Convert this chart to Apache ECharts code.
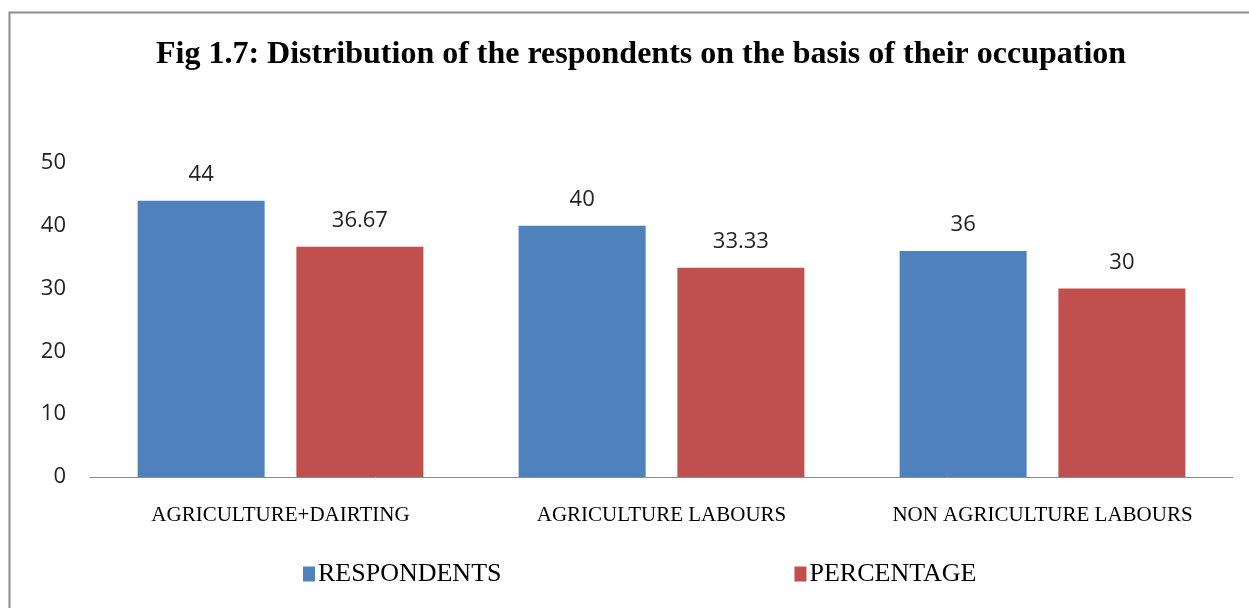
<!DOCTYPE html>
<html><head><meta charset="utf-8">
<script src="https://cdn.jsdelivr.net/npm/echarts@6/dist/echarts.min.js"></script>
<style>html,body{margin:0;padding:0;background:#fff}#c{width:1249px;height:608px}</style>
</head><body><div id="c"></div>
<script>
const categories = ["AGRICULTURE+DAIRTING", "AGRICULTURE LABOURS", "NON AGRICULTURE LABOURS"];
const respondents = [44, 40, 36];
const percentage = [36.67, 33.33, 30];
const yTicks = [0, 10, 20, 30, 40, 50];

const chart = echarts.init(document.getElementById('c'));
const labelStyle = {show: true, position: 'top', distance: 15, color: '#222', fontFamily: 'Open Sans', fontSize: 22};
chart.setOption({
  animation: false,
  graphic: [{type: 'rect', shape: {x: 9.5, y: 12.5, width: 1400, height: 800}, style: {fill: 'none', stroke: '#8c8c8c', lineWidth: 2}}],
  title: {text: 'Fig 1.7: Distribution of the respondents on the basis of their occupation', left: 636, textAlign: 'center', top: 34,
    textStyle: {fontFamily: 'Liberation Serif', fontWeight: 'bold', fontSize: 32, color: '#000'}},
  legend: {bottom: 16, left: 298, itemGap: 293, itemWidth: 12, itemHeight: 15, icon: 'rect',
    textStyle: {fontFamily: 'Liberation Serif', fontSize: 26, color: '#000', padding: [0,0,0,-2]},
    data: ['RESPONDENTS', 'PERCENTAGE']},
  grid: {left: 90, right: 16, top: 163, bottom: 131, containLabel: false},
  xAxis: {type: 'category', data: categories,
    axisLine: {lineStyle: {color: '#8c8c8c', width: 1}}, axisTick: {show: false},
    axisLabel: {interval: 0, fontFamily: 'Liberation Serif', fontSize: 21, color: '#000', margin: 28}},
  yAxis: {type: 'value', min: yTicks[0], max: yTicks[yTicks.length-1], interval: 10,
    axisLine: {show: false}, axisTick: {show: false}, splitLine: {show: false},
    axisLabel: {fontFamily: 'Open Sans', fontSize: 22, color: '#222', margin: 24}},
  series: [
    {name: 'RESPONDENTS', type: 'bar', data: respondents, barGap: '25%', barCategoryGap: '25%',
      itemStyle: {color: '#4f81bd'}, label: labelStyle},
    {name: 'PERCENTAGE', type: 'bar', data: percentage,
      itemStyle: {color: '#c0504d'}, label: labelStyle}
  ]
});
</script></body></html>
